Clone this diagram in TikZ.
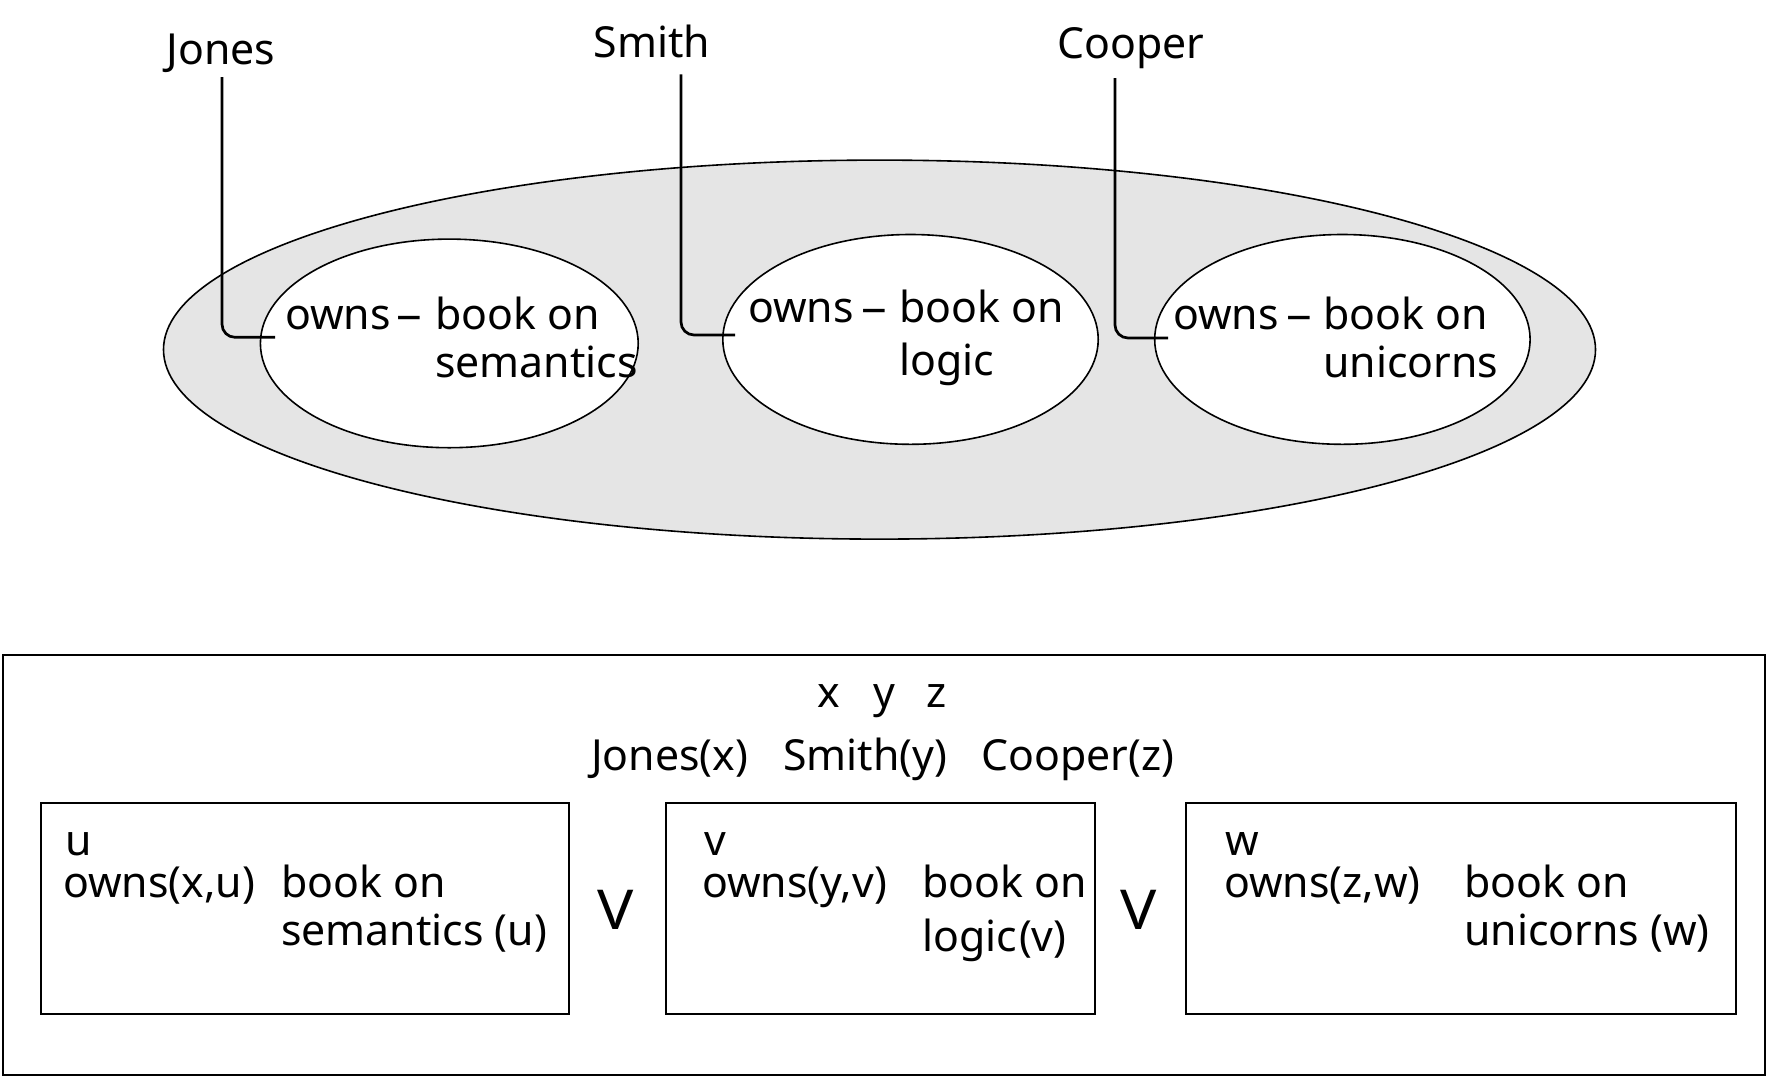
\documentclass[tikz,border=0pt]{standalone}
\usepackage{fontspec}
\setmainfont{Noto Sans}
\usetikzlibrary{shapes.geometric}
\newcommand{\mydash}{\scalebox{1.2}[1]{–}}
\begin{document}
\begin{tikzpicture}[x=1pt,y=-1pt,
  every node/.style={font=\fontsize{42.8}{48}\selectfont, inner sep=0pt},
  leader/.style={line width=2.7pt, rounded corners=13pt},
  ell/.style={ellipse, draw, line width=1.6pt, fill=white, inner sep=0pt},
  box/.style={rectangle, draw, line width=2pt, inner sep=0pt, anchor=north west},
  txt/.style={anchor=base west},
  lbl/.style={anchor=base},
  orsym/.style={anchor=base, font=\fontsize{55}{60}\selectfont}]
\useasboundingbox (0,0) rectangle (1768,1077);
% top part
\node[ellipse, draw, fill=black!10, line width=1.6pt, inner sep=0pt,
      minimum width=1432pt, minimum height=379pt] (big) at (879.5,349.6) {};
\node[ell, minimum width=377.8pt, minimum height=208.6pt] (e1) at (449.3,343.4) {};
\node[ell, minimum width=375.4pt, minimum height=209.8pt] (e2) at (910.5,339.4) {};
\node[ell, minimum width=375.4pt, minimum height=209.8pt] (e3) at (1342.4,339.4) {};

\node[lbl] (jones) at (221,64) {Jones};
\node[lbl] (smith) at (652,57.5) {Smith};
\node[lbl] (cooper) at (1131,58.6) {Cooper};

\coordinate (jtop) at (222,77);
\coordinate (jend) at (275,337.3);
\coordinate (stop) at (681,74.4);
\coordinate (send) at (735,335);
\coordinate (ctop) at (1115,78);
\coordinate (cend) at (1168,338);
\draw[leader] (jtop) |- (jend);
\draw[leader] (stop) |- (send);
\draw[leader] (ctop) |- (cend);

\node[txt] (o1) at (285,329) {owns};
\node[txt] (d1) at (396,329) {\mydash};
\node[txt] (b1) at (435,329) {book on};
\node[txt] (s1) at (435,377.7) {semantics};

\node[txt] (o2) at (748,322.5) {owns};
\node[txt] (d2) at (861,322.5) {\mydash};
\node[txt] (b2) at (899,322.5) {book on};
\node[txt] (s2) at (899,375.5) {logic};

\node[txt] (o3) at (1173,329) {owns};
\node[txt] (d3) at (1286,329) {\mydash};
\node[txt] (b3) at (1323,329) {book on};
\node[txt] (s3) at (1323,377.7) {unicorns};

% bottom part
\node[box, minimum width=1762pt, minimum height=420pt] (outer) at (2,654) {};
\node[lbl] (vx) at (829,707) {x};
\node[lbl] (vy) at (884,707) {y};
\node[lbl] (vz) at (937,707) {z};
\node[txt] (pj) at (591,770) {Jones(x)};
\node[txt] (ps) at (783,770) {Smith(y)};
\node[txt] (pc) at (981,770) {Cooper(z)};

\node[box, minimum width=528.5pt, minimum height=210.6pt] (bx1) at (39.5,802) {};
\node[txt] (u1) at (65,855) {u};
\node[txt] (ow1) at (63,897) {owns(x,u)};
\node[txt] (bk1) at (281,897) {book on};
\node[txt] (sm1) at (281,945) {semantics (u)};
\node[orsym] (or1) at (615.5,929) {\scalebox{1.1}[1]{V}};

\node[box, minimum width=428.7pt, minimum height=210.6pt] (bx2) at (665,802) {};
\node[txt] (u2) at (704,855) {v};
\node[txt] (ow2) at (702,897) {owns(y,v)};
\node[txt] (bk2) at (922,897) {book on};
\node[txt] (sm2) at (922,951) {logic\kern2pt(v)};
\node[orsym] (or2) at (1139,929) {\scalebox{1.1}[1]{V}};

\node[box, minimum width=550.4pt, minimum height=210.6pt] (bx3) at (1185,802) {};
\node[txt] (u3) at (1225,855) {w};
\node[txt] (ow3) at (1224,897) {owns(z,w)};
\node[txt] (bk3) at (1464,897) {book on};
\node[txt] (sm3) at (1464,945) {unicorns (w)};
\end{tikzpicture}
\end{document}
